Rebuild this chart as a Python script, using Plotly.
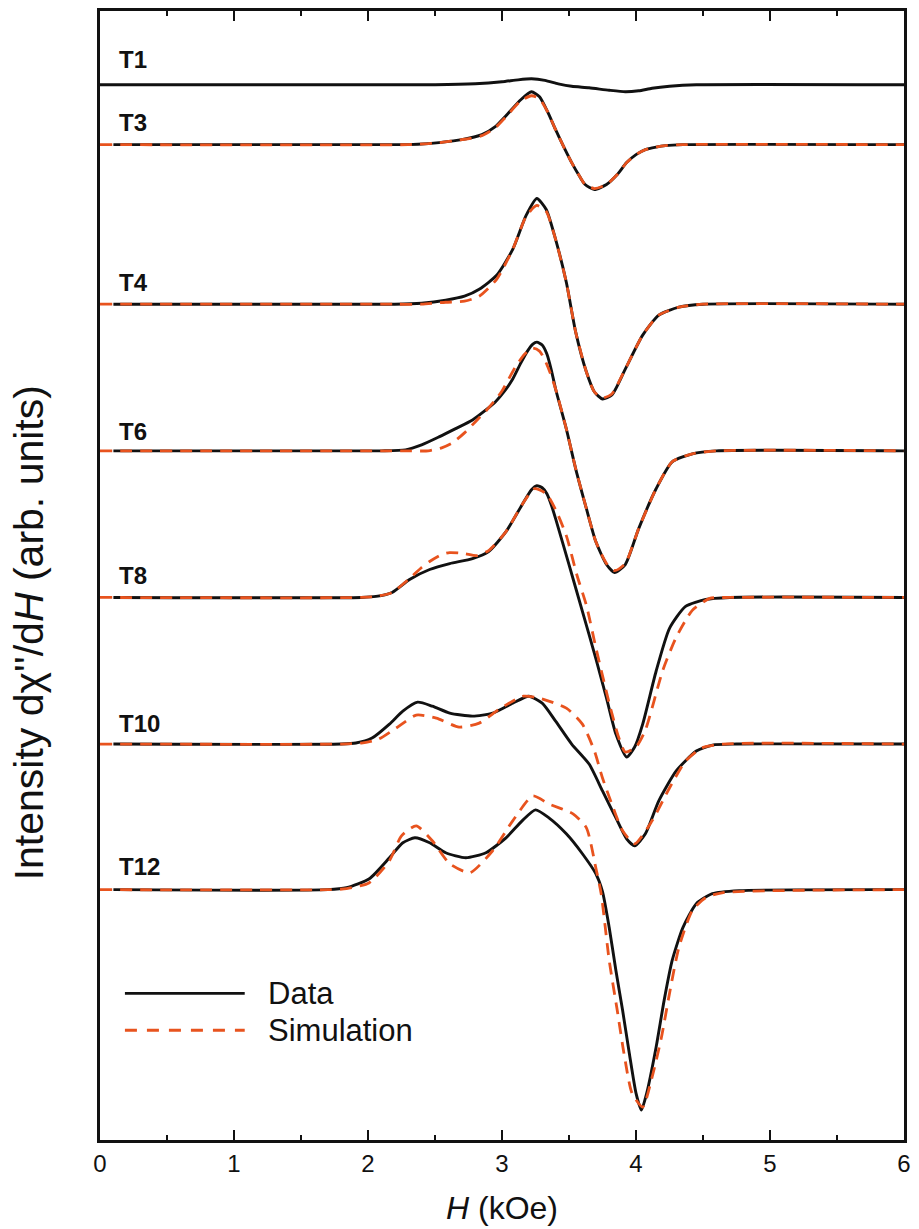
import plotly.graph_objects as go

# ---------------- data (H in kOe, signal in arb. units relative to each baseline) ----------------
labels = ["T1", "T3", "T4", "T6", "T8", "T10", "T12"]
offsets = [1058, 998, 838, 691, 544, 397, 251]
label_y = [1083, 1020, 860, 710, 566, 418, 274]

t1_h = [0, 2.5, 2.8, 3.0, 3.12, 3.22, 3.32, 3.42, 3.52, 3.65, 3.8, 3.92, 4.02, 4.12, 4.25, 4.45, 6]
t1_v = [0, 0, 1, 3, 5, 6, 4.5, 1, -1.5, -3, -5.5, -7, -6, -3.5, -1.5, 0, 0]

t3_h = [0.1, 2.3, 2.45, 2.53, 2.7, 2.85, 2.95, 3.03, 3.14, 3.22, 3.28, 3.34, 3.40, 3.46, 3.52, 3.58,
        3.62, 3.69, 3.78, 3.86, 3.93, 4.0, 4.07, 4.15, 4.22, 4.35, 6]
t3_v = [0, 0, 1, 2, 5, 10, 18, 29, 45, 53, 48, 33, 15, -2, -18, -32, -40, -45, -40, -30, -18, -10,
        -5, -2.5, -1, 0, 0]
t3s_h = [0, 2.3, 2.45, 2.53, 2.7, 2.85, 2.95, 3.03, 3.14, 3.22, 3.28, 3.34, 3.40, 3.46, 3.52, 3.58,
         3.62, 3.69, 3.78, 3.86, 3.93, 4.0, 4.07, 4.15, 4.22, 4.35, 6]
t3s_v = [0, 0, 1, 2, 5, 9, 17, 28, 44, 49, 46, 33, 15, -2, -18, -32, -40, -44, -40, -30, -18, -10,
         -5, -2.5, -1, 0, 0]

t4_h = [0.1, 2.2, 2.4, 2.58, 2.72, 2.83, 2.96, 3.08, 3.18, 3.26, 3.33, 3.40, 3.48, 3.55, 3.63, 3.69,
        3.75, 3.82, 3.92, 4.05, 4.17, 4.32, 4.5, 6]
t4_v = [0, 0, 1, 4, 8, 15, 29, 55, 89, 106, 95, 65, 22, -28, -68, -88, -95, -91, -65, -31, -11, -3, 0, 0]
t4s_h = [0, 2.2, 2.4, 2.58, 2.72, 2.83, 2.96, 3.08, 3.18, 3.26, 3.33, 3.40, 3.48, 3.55, 3.63, 3.69,
         3.75, 3.82, 3.92, 4.05, 4.17, 4.32, 4.5, 6]
t4s_v = [0, 0, 0, 2, 3, 8, 25, 55, 88, 99, 93, 65, 22, -28, -68, -88, -94, -90, -65, -31, -11, -3, 0, 0]

t6_h = [0.1, 2.1, 2.28, 2.4, 2.53, 2.65, 2.78, 2.88, 2.95, 3.02, 3.08, 3.14, 3.19, 3.23, 3.26, 3.30,
        3.335, 3.37, 3.40, 3.48, 3.55, 3.63, 3.70, 3.78, 3.84, 3.92, 4.02, 4.15, 4.27, 4.42, 4.6, 6]
t6_v = [0, 0, 1, 6, 14, 22, 31, 41, 49, 60, 72, 88, 100, 107, 109, 106, 97, 80, 62, 22, -18, -58,
        -91, -114, -122, -114, -78, -38, -11, -3, 0, 0]
t6s_h = [0, 2.1, 2.3, 2.45, 2.55, 2.63, 2.72, 2.8, 2.88, 2.95, 3.0, 3.1, 3.17, 3.23, 3.28, 3.32,
         3.36, 3.40, 3.48, 3.55, 3.63, 3.70, 3.78, 3.84, 3.92, 4.02, 4.15, 4.27, 4.42, 4.6, 6]
t6s_v = [0, 0, 0, 0, 3, 8, 18, 29, 40, 51, 60, 84, 97, 103, 100, 91, 78, 62, 22, -18, -58, -91,
         -113, -120, -113, -78, -38, -11, -3, 0, 0]

t8_h = [0.1, 1.95, 2.06, 2.18, 2.31, 2.46, 2.61, 2.78, 2.90, 3.03, 3.15, 3.22, 3.26, 3.30, 3.335,
        3.37, 3.40, 3.50, 3.60, 3.70, 3.78, 3.85, 3.93, 3.99, 4.05, 4.15, 4.25, 4.37, 4.52, 4.7, 6]
t8_v = [0, 0, 1, 5, 18, 28, 34, 39, 46, 66, 93, 108, 112, 110, 104, 92, 79, 33, -14, -61, -101,
        -137, -160, -150, -127, -74, -31, -9, -2, 0, 0]
t8s_h = [0, 1.95, 2.06, 2.18, 2.31, 2.40, 2.46, 2.55, 2.61, 2.72, 2.81, 2.90, 3.03, 3.15, 3.24, 3.33,
         3.40, 3.48, 3.56, 3.63, 3.70, 3.80, 3.87, 3.92, 4.0, 4.07, 4.2, 4.3, 4.42, 4.55, 4.7, 6]
t8s_v = [0, 0, 1, 5, 19, 30, 36, 43, 45, 44, 42, 47, 66, 93, 109, 104, 88, 62, 22, -8, -50, -106,
         -140, -155, -150, -133, -73, -40, -13, -1, 0, 0]

t10_h = [0.1, 1.8, 1.91, 2.03, 2.16, 2.26, 2.37, 2.48, 2.61, 2.78, 2.93, 3.08, 3.20, 3.30, 3.40, 3.52,
         3.65, 3.75, 3.85, 3.93, 3.99, 4.07, 4.17, 4.30, 4.45, 4.57, 4.75, 6]
t10_v = [0, 0, 1, 6, 20, 33, 42, 38, 31, 28, 31, 41, 48, 41, 23, 0, -20, -47, -74, -95, -102, -90,
         -57, -27, -7, -1, 0, 0]
t10s_h = [0, 1.8, 1.95, 2.08, 2.21, 2.36, 2.51, 2.68, 2.83, 2.98, 3.16, 3.28, 3.48, 3.60, 3.69, 3.75,
          3.83, 3.90, 3.99, 4.12, 4.25, 4.37, 4.49, 4.65, 6]
t10s_v = [0, 0, 1, 5, 16, 29, 26, 17, 21, 35, 48, 46, 36, 20, -7, -34, -64, -87, -100, -77, -44,
          -17, -4, 0, 0]

t12_h = [0.1, 1.7, 1.84, 2.01, 2.16, 2.26, 2.35, 2.46, 2.58, 2.73, 2.88, 3.03, 3.15, 3.25, 3.35, 3.48,
         3.60, 3.70, 3.75, 3.80, 3.85, 3.90, 3.95, 4.0, 4.04, 4.08, 4.15, 4.21, 4.27, 4.35, 4.45, 4.57,
         4.77, 6]
t12_v = [0, 0, 2, 11, 32, 47, 52, 47, 37, 32, 37, 52, 69, 80, 72, 56, 36, 16, -2, -38, -81, -121,
         -164, -204, -221, -204, -158, -111, -71, -38, -14, -4, -1, 0]
t12s_h = [0, 1.7, 1.84, 2.01, 2.16, 2.25, 2.36, 2.48, 2.61, 2.76, 2.93, 3.08, 3.23, 3.35, 3.53, 3.63,
          3.70, 3.74, 3.80, 3.86, 3.91, 3.97, 4.05, 4.12, 4.19, 4.25, 4.32, 4.42, 4.52, 4.65, 6]
t12s_v = [0, 0, 1, 7, 29, 54, 64, 49, 26, 17, 39, 69, 94, 86, 76, 62, 22, -4, -71, -121, -164, -204,
          -218, -188, -148, -104, -58, -21, -8, -3, 0]

data_h = [t1_h, t3_h, t4_h, t6_h, t8_h, t10_h, t12_h]
data_v = [t1_v, t3_v, t4_v, t6_v, t8_v, t10_v, t12_v]
sim_h = [None, t3s_h, t4s_h, t6s_h, t8s_h, t10s_h, t12s_h]
sim_v = [None, t3s_v, t4s_v, t6s_v, t8s_v, t10s_v, t12s_v]

x_ticks = [0, 1, 2, 3, 4, 5, 6]

BLACK = "#111111"
ORANGE = "#E8531E"
FONT = "Liberation Sans, Arial, sans-serif"

fig = go.Figure()
for i in range(len(labels)):
    off = offsets[i]
    fig.add_trace(go.Scatter(
        x=data_h[i], y=[off + v for v in data_v[i]], mode="lines",
        line=dict(color=BLACK, width=2.9, shape="spline", smoothing=0.6),
        showlegend=False, hoverinfo="skip"))
    if sim_h[i] is not None:
        fig.add_trace(go.Scatter(
            x=sim_h[i], y=[off + v for v in sim_v[i]], mode="lines",
            line=dict(color=ORANGE, width=2.8, dash="12px,8px", shape="spline", smoothing=0.6),
            showlegend=False, hoverinfo="skip"))
    fig.add_annotation(x=0.13, y=label_y[i], xref="x", yref="y", text="<b>%s</b>" % labels[i],
                       showarrow=False, xanchor="left", yanchor="middle",
                       font=dict(family=FONT, size=24, color=BLACK))

# manual legend
fig.add_shape(type="line", xref="paper", yref="paper", x0=0.031, x1=0.180, y0=0.1299, y1=0.1299,
              line=dict(color=BLACK, width=2.9))
fig.add_shape(type="line", xref="paper", yref="paper", x0=0.031, x1=0.180, y0=0.0972, y1=0.0972,
              line=dict(color=ORANGE, width=2.8, dash="12px,10px"))
fig.add_annotation(x=0.207, y=0.1299, xref="paper", yref="paper", text="Data", showarrow=False,
                   xanchor="left", yanchor="middle", font=dict(family=FONT, size=31, color=BLACK))
fig.add_annotation(x=0.207, y=0.0972, xref="paper", yref="paper", text="Simulation", showarrow=False,
                   xanchor="left", yanchor="middle", font=dict(family=FONT, size=31, color=BLACK))

# axis titles
fig.add_annotation(x=-0.088, y=0.449, xref="paper", yref="paper",
                   text="Intensity d\u03c7''/d<i>H</i> (arb. units)", textangle=-90, showarrow=False,
                   xanchor="center", yanchor="middle", font=dict(family=FONT, size=41, color=BLACK))
fig.add_annotation(x=0.5, y=-0.060, xref="paper", yref="paper", text="<i>H</i> (kOe)",
                   showarrow=False, xanchor="center", yanchor="middle",
                   font=dict(family=FONT, size=32, color=BLACK))

fig.update_xaxes(range=[0, 6], tickvals=x_ticks, ticktext=[str(t) for t in x_ticks],
                 ticks="inside", ticklen=10, tickwidth=2, tickcolor=BLACK,
                 minor=dict(dtick=0.5, ticks="inside", ticklen=5, tickwidth=2, tickcolor=BLACK),
                 showline=True, linewidth=2.6, linecolor=BLACK, mirror="allticks",
                 showgrid=False, zeroline=False,
                 tickfont=dict(family=FONT, size=24, color=BLACK))
fig.update_yaxes(range=[0, 1132], showticklabels=False, ticks="", showline=True, linewidth=2.6,
                 linecolor=BLACK, mirror=True, showgrid=False, zeroline=False)

fig.update_layout(width=919, height=1229, margin=dict(l=100, r=13, t=8, b=89),
                  plot_bgcolor="white", paper_bgcolor="white", showlegend=False)

fig.write_html("out.html", config={"displayModeBar": False},
               post_script="document.body.style.margin='0';document.body.style.overflow='hidden';")
